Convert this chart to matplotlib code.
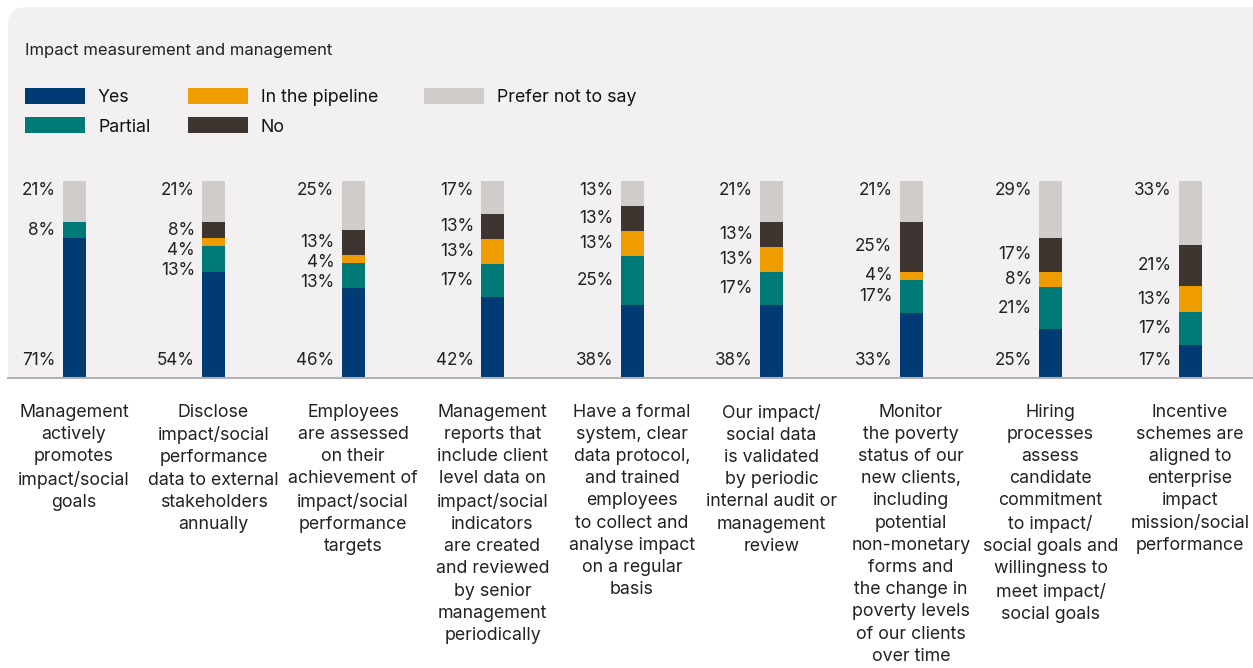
import numpy as np
import matplotlib.pyplot as plt
from matplotlib.patches import FancyBboxPatch, Rectangle
from matplotlib.lines import Line2D

plt.rcParams['font.family'] = ['Inter', 'DejaVu Sans']

categories = [
    "Management\nactively\npromotes\nimpact/social\ngoals",
    "Disclose\nimpact/social\nperformance\ndata to external\nstakeholders\nannually",
    "Employees\nare assessed\non their\nachievement of\nimpact/social\nperformance\ntargets",
    "Management\nreports that\ninclude client\nlevel data on\nimpact/social\nindicators\nare created\nand reviewed\nby senior\nmanagement\nperiodically",
    "Have a formal\nsystem, clear\ndata protocol,\nand trained\nemployees\nto collect and\nanalyse impact\non a regular\nbasis",
    "Our impact/\nsocial data\nis validated\nby periodic\ninternal audit or\nmanagement\nreview",
    "Monitor\nthe poverty\nstatus of our\nnew clients,\nincluding\npotential\nnon-monetary\nforms and\nthe change in\npoverty levels\nof our clients\nover time",
    "Hiring\nprocesses\nassess\ncandidate\ncommitment\nto impact/\nsocial goals and\nwillingness to\nmeet impact/\nsocial goals",
    "Incentive\nschemes are\naligned to\nenterprise\nimpact\nmission/social\nperformance",
]

yes = [71, 54, 46, 42, 38, 38, 33, 25, 17]
partial = [8, 13, 13, 17, 25, 17, 17, 21, 17]
pipeline = [0, 4, 4, 13, 13, 13, 4, 8, 13]
no = [0, 8, 13, 13, 13, 13, 25, 17, 21]
prefer = [21, 21, 25, 17, 13, 21, 21, 29, 33]

series = [("Yes", yes, "#003b73"),
          ("Partial", partial, "#007a77"),
          ("In the pipeline", pipeline, "#ee9c00"),
          ("No", no, "#3e3530"),
          ("Prefer not to say", prefer, "#d0ccc9")]

W, H = 1253, 668
fig = plt.figure(figsize=(W / 100, H / 100), dpi=100)
fig.patch.set_facecolor("white")

# background panel: rounded top corners, square bottom
panel = FancyBboxPatch((8 / W, (H - 378) / H), (W + 20) / W, 371 / H,
                       boxstyle="round,pad=0,rounding_size=0.015",
                       transform=fig.transFigure, facecolor="#f2f0f1",
                       edgecolor="none", zorder=-5, mutation_aspect=W / H)
fig.patches.append(panel)
fig.patches.append(Rectangle((8 / W, (H - 378) / H), 1, 100 / H,
                             transform=fig.transFigure, facecolor="#f2f0f1",
                             edgecolor="none", zorder=-5))

fig.text(25 / W, 1 - 50 / H, "Impact measurement and management",
         fontsize=12, color="#222222", va="center", ha="left")

# legend
leg_pos = [(25, 96), (25, 125), (188, 96), (188, 125), (424, 96)]
for (name, _, color), (lx, ly) in zip(series, leg_pos):
    fig.patches.append(Rectangle((lx / W, 1 - (ly + 8) / H), 60 / W, 16 / H,
                                 transform=fig.transFigure, facecolor=color,
                                 edgecolor="none"))
    fig.text((lx + 73) / W, 1 - (ly + 2) / H, name, fontsize=12.8,
             color="#111111", va="center", ha="left")

ax = fig.add_axes([0, 1 - 378 / H, 1, 197 / H])
ax.set_facecolor("none")
ax.set_zorder(5)
ax.set_xlim(-74 / 139.5, -74 / 139.5 + W / 139.5)
ax.set_ylim(0, 100)
ax.axis("off")

x = np.arange(len(categories))
data = np.array([s[1] for s in series], dtype=float)
totals = data.sum(axis=0)
norm = data / totals * 100
bottom = np.zeros(len(categories))
bw = 23 / 139.5
for i, (name, vals, color) in enumerate(series):
    ax.bar(x, norm[i], bw, bottom=bottom, color=color, zorder=2)
    bottom += norm[i]

fig.add_artist(Line2D([8 / W, 1], [1 - 378.5 / H] * 2, color="#b5b1b1",
                      lw=1.5, transform=fig.transFigure, zorder=6))

# value labels (placed left of bar, pushed apart when crowded)
u = 197 / 100  # px per unit
gap = 20 / u
fs = 12.3
for j in range(len(categories)):
    xl = x[j] - bw / 2 - 7 / 139.5
    cum = np.concatenate([[0], np.cumsum(norm[:, j])])
    ax.text(xl, 9, f"{yes[j]}%", ha="right", va="center", fontsize=fs,
            color="#222222", clip_on=False)
    prev = 100 - 5
    ax.text(xl, prev, f"{prefer[j]}%", ha="right", va="center",
            fontsize=fs, color="#222222", clip_on=False)
    for i in [3, 2, 1]:
        v = data[i, j]
        if v == 0:
            continue
        yc = (cum[i] + cum[i + 1]) / 2
        yc = min(yc, prev - gap)
        ax.text(xl, yc, f"{int(v)}%", ha="right", va="center",
                fontsize=fs, color="#222222", clip_on=False)
        prev = yc

for j, lab in enumerate(categories):
    ax.text(x[j], -13, lab, ha="center", va="top", fontsize=12.8,
            color="#222222", linespacing=1.4, clip_on=False)

fig.savefig("out.png", dpi=100)
